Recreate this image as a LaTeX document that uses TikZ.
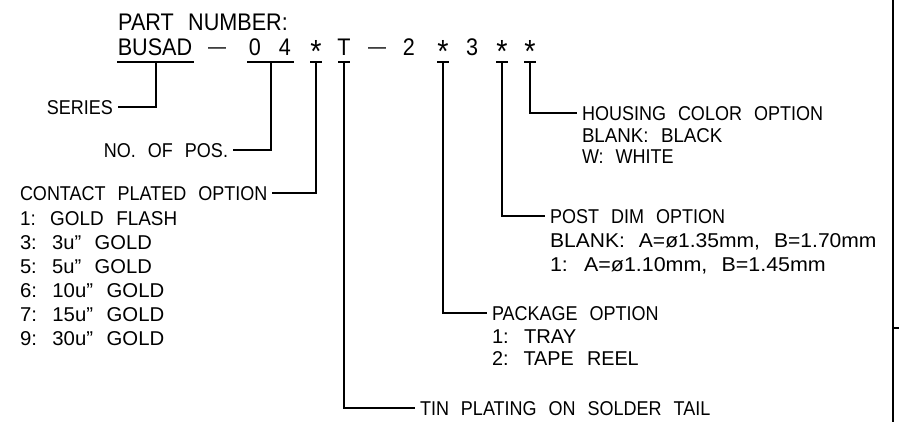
\documentclass[tikz,border=0pt]{standalone}
\usepackage{fontspec}
\setmainfont{Liberation Sans}[WordSpace=2.4, FakeStretch=0.9]
\newcommand\hx[2]{\scalebox{#1}[1]{#2}}
\begin{document}
\begin{tikzpicture}[x=1pt,y=-1pt,
  big/.style={font=\fontsize{24}{28}\selectfont, inner sep=0pt, text height=17.2pt, text depth=0pt},
  star/.style={font=\fontsize{32}{36}\selectfont, inner sep=0pt, anchor=base},
  dsh/.style={font=\fontsize{20}{24}\selectfont, inner sep=0pt, anchor=base},
  lab/.style={font=\fontsize{20}{24}\selectfont, inner sep=0pt, outer xsep=5pt, text height=14.3pt, text depth=0pt},
  ldr/.style={line width=1.8pt}]
\fill[white] (0,0) rectangle (899,422);
\useasboundingbox (0,0) rectangle (899,422);
% part number
\node[big, anchor=west] (pn) at (118,22) {PART NUMBER:};
\node[big] (c1) at (155,47) {BUSAD};
\node[dsh] (d1) at (217,54) {—};
\node[big] (c3) at (255,47) {0};
\node[big] (c4) at (285,47) {4};
\node[star] (c5) at (316,63) {*};
\node[big] (c6) at (344,47) {T};
\node[dsh] (d2) at (377,54) {—};
\node[big] (c8) at (409,47) {2};
\node[star] (c9) at (443,63) {*};
\node[big] (c10) at (472,47) {3};
\node[star] (c11) at (502,63) {*};
\node[star] (c12) at (530,63) {*};
% underline points
\coordinate (u1) at (156,62);
\coordinate (u34) at (271,62);
\coordinate (u5) at (316,62);
\coordinate (u6) at (344,62);
\coordinate (u9) at (443,62);
\coordinate (u11) at (502,62);
\coordinate (u12) at (530,62);
\draw[ldr] (117,62) -- (194,62);
\draw[ldr] (247,62) -- (294,62);
\draw[ldr] (310,62) -- (322,62);
\draw[ldr] (338,62) -- (350,62);
\draw[ldr] (437,62) -- (449,62);
\draw[ldr] (496,62) -- (508,62);
\draw[ldr] (524,62) -- (536,62);
% labels
\node[lab, anchor=east] (series) at (118,107) {SERIES};
\node[lab, anchor=east] (npos) at (233,150) {NO. OF POS.};
\node[lab, anchor=west] (contact) at (15,193) {CONTACT PLATED OPTION};
\node[lab, anchor=west] (cl1) at (15,218) {\hx{1.05}{1: GOLD FLASH}};
\node[lab, anchor=west] (cl2) at (15,242) {\hx{1.12}{3: 3u” GOLD}};
\node[lab, anchor=west] (cl3) at (15,266) {\hx{1.12}{5: 5u” GOLD}};
\node[lab, anchor=west] (cl4) at (15,290) {\hx{1.13}{6: 10u” GOLD}};
\node[lab, anchor=west] (cl5) at (15,314) {\hx{1.13}{7: 15u” GOLD}};
\node[lab, anchor=west] (cl6) at (15,338) {\hx{1.13}{9: 30u” GOLD}};
\node[lab, anchor=west] (housing) at (577,113) {HOUSING COLOR OPTION};
\node[lab, anchor=west] (h1) at (577,135) {\hx{1.04}{BLANK: BLACK}};
\node[lab, anchor=west] (h2) at (577,156) {W: WHITE};
\node[lab, anchor=west] (post) at (545,216) {POST DIM OPTION};
\node[lab, anchor=west] (p1) at (545,240) {\hx{1.17}{BLANK: A=ø1.35mm, B=1.70mm}};
\node[lab, anchor=west] (p2) at (545,264) {\hx{1.19}{1: A=ø1.10mm, B=1.45mm}};
\node[lab, anchor=west] (pack) at (487,313) {PACKAGE OPTION};
\node[lab, anchor=west] (k1) at (487,336) {\hx{1.12}{1: TRAY}};
\node[lab, anchor=west] (k2) at (487,358) {\hx{1.1}{2: TAPE REEL}};
\node[lab, anchor=west] (tin) at (415,408) {TIN PLATING ON SOLDER TAIL};
% leaders
\draw[ldr] (series.east) -| (u1);
\draw[ldr] (npos.east) -| (u34);
\draw[ldr] (contact.east) -| (u5);
\draw[ldr] (u12) |- (housing.west);
\draw[ldr] (u11) |- (post.west);
\draw[ldr] (u9) |- (pack.west);
\draw[ldr] (u6) |- (tin.west);
% frame
\coordinate (fr1) at (893,0);
\coordinate (fr2) at (893,422);
\coordinate (fr3) at (893,328);
\coordinate (fr4) at (899,328);
\draw[ldr] (fr1) -- (fr2);
\draw[ldr] (fr3) -- (fr4);
\end{tikzpicture}
\end{document}
